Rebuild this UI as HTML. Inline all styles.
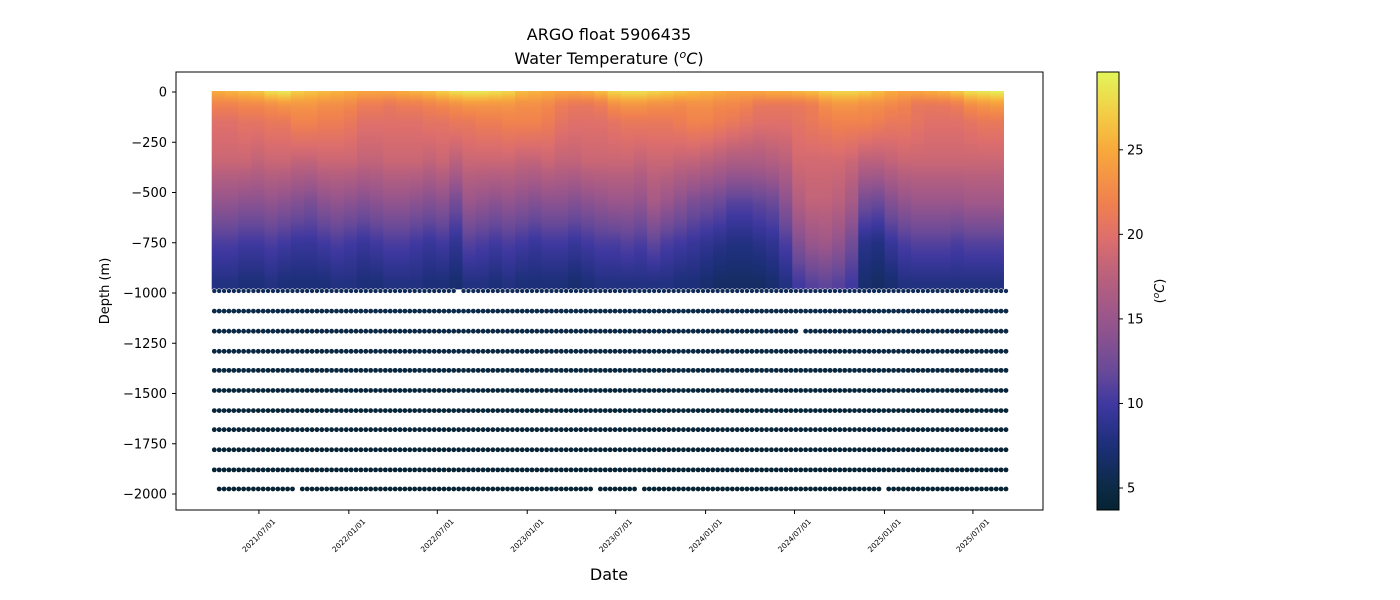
<!DOCTYPE html>
<html><head><meta charset="utf-8"><style>
body{margin:0;background:#fff;}
svg{display:block;font-family:"DejaVu Sans","Liberation Sans",sans-serif;}
</style></head><body>
<svg id="chart" width="1400" height="600" viewBox="0 0 1400 600" xmlns="http://www.w3.org/2000/svg">
<defs id="defs"></defs>
<text x="609" y="40" font-size="16" text-anchor="middle" fill="#000">ARGO float 5906435</text>
<text x="609" y="64" font-size="16" text-anchor="middle" fill="#000">Water Temperature (<tspan font-style="italic" font-size="11" dy="-6">o</tspan><tspan font-style="italic" dy="6">C</tspan>)</text>
<g id="plot"></g>
<rect x="176" y="72" width="867" height="438" fill="none" stroke="#000" stroke-width="1"/>
<g id="yaxis"></g>
<g id="xaxis"></g>
<text transform="translate(109,291) rotate(-90)" font-size="13" text-anchor="middle">Depth (m)</text>
<text x="609" y="580" font-size="16" text-anchor="middle">Date</text>
<g id="cbar"></g>
<text transform="translate(1164,291) rotate(-90)" font-size="13" text-anchor="middle">(<tspan font-style="italic" font-size="9" dy="-5">o</tspan><tspan font-style="italic" dy="5">C</tspan>)</text>
</svg>
<script>
// ---- data ----
const profileDays = [0,27,54,81,108,135,162,189,216,243,270,297,324,351,378,405,432,459,486,513,540,567,594,621,648,675,702,729,756,783,810,837,864,891,918,945,972,999,1026,1053,1080,1107,1134,1161,1188,1215,1242,1269,1296,1323,1350,1377,1404,1431,1458,1485,1512,1539,1566,1593];
const depthLevels = [0,60,150,350,550,750,950];
const sst  = [25,25.5,26,26.5,28,28.5,27,26.5,26,25.5,25,24.5,24.5,24.5,25,25.5,26,27,28,28.5,28.5,28,27.5,26,25.5,25,24.5,24.5,25,26,27.5,28,28,27.5,27,26.5,26,25.5,25,24.5,24.5,24.5,25,25,25.5,26,27,27.5,27.5,27,26,25,24.5,24.5,25,25.5,26.5,28,28.5,29];
const t60  = [22,22,22.5,22.5,23,23.5,23.5,23.5,23,23,22.5,21.5,21.5,21,21.5,21.5,22,22.5,23,23.5,23.5,23.5,23.5,23,23,22.5,21.5,21,21,21.5,23,23.5,23.5,23,23,22.5,23,23,22.5,22.5,22,21,21,21,21,21.5,23,23.5,23.5,23,23,22.5,22,21,21,21,21.5,23,23.5,24];
const t150 = [20,20,20.5,20.5,21,21,22,22,21.5,21.5,21,20,20,20,20,20,20.5,20.5,21,21,21.5,21.5,22,22,22,21.5,20.5,20,20,20,20.5,21,21,21,21,21.5,22,22,21.5,21,20.5,20,20,20,20.5,21,21.5,22,22,22,21.5,21,21,20.5,20,20,20,20.5,21,21];
const t350 = [18.5,18.5,18.5,18,18.5,18.5,18,18,18.5,18.5,18.5,18,18,18.5,18.5,18.5,18,18.5,17.5,18.5,18.5,18.5,18.5,18,18,18.5,18,18,18.5,18.5,18.5,18.5,18,18.5,18.5,18,18,17.5,17,16.5,16.5,16.5,17,17.5,19,19,19,19,18.5,17.5,17.5,18,18.5,18.5,18.5,18.5,18.5,18.5,18.5,18.5];
const t550 = [14.5,14.5,14,14,14.5,14,13.5,13,14,14.5,14,13.5,14,14.5,14.5,14,13.5,14,12.5,15,14.5,14,14.5,14,13.5,14,14,13.5,14,14.5,15,15,14.5,16,15,14,13,12.5,12,11,11,11.5,12,14,17,18,18,17.5,16,12.5,12,13.5,14.5,15,15,15,15,15.5,15.5,15.5];
const t750 = [10.5,10.5,10,10,10.5,10,9.5,9.5,10,10.5,10,9.5,10,10.5,10.5,10,9.5,10,9,11,10.5,10,10.5,10,9.5,10,10,9.5,10,10.5,10.5,11,10.5,11.5,10.5,10,9.5,9,8.5,8,8,8.5,9,10.5,13.5,15,15.5,14.5,12.5,8.5,8,9.5,10.5,11,11,11,10.5,11,11,11];
const t950 = [8,8,7.5,7.5,8,7.5,7.5,7.5,7.5,8,8,7.5,7.5,8,8,8,7.5,7.5,7,8,8,7.5,8,7.5,7.5,7.5,7.5,7,7.5,8,8,8,8,8,8,7.5,7.5,7,6.5,6.5,6.5,6.5,7,8,10,11,11.5,11,10,7,6.5,7,8,8,8,8,8,8,8,8];
const deepDepths = [990,1090,1190,1290,1385,1485,1585,1680,1780,1880,1975];
const deepTemps  = [6.0,5.2,4.9,4.7,4.5,4.3,4.2,4.1,4.0,3.9,3.8];
const deepStepDays = 10;
const deepLastDay = 1620;
const deepMissing = {990:[500],1190:[1200],1975:[0,170,780,870,1370]};
const yTicks = [0,-250,-500,-750,-1000,-1250,-1500,-1750,-2000];
const xTickLabels = ["2021/07/01","2022/01/01","2022/07/01","2023/01/01","2023/07/01","2024/01/01","2024/07/01","2025/01/01","2025/07/01"];
const xTickDays = [96,280,461,645,826,1010,1192,1376,1557];
const cbTicks = [5,10,15,20,25];

// ---- scales ----
const NS="http://www.w3.org/2000/svg";
const X0=212, PXD=0.4887;
const xS=d=>X0+d*PXD;
const yS=v=>92+(-v)*0.201;
const TMIN=3.7,TMAX=29.6;
const cmap=[[0,[6,35,51]],[0.05,[11,42,69]],[0.15,[29,47,122]],[0.24,[62,56,160]],[0.32,[106,74,152]],[0.43,[151,85,140]],[0.53,[184,96,126]],[0.62,[221,110,108]],[0.7,[240,128,79]],[0.82,[248,168,60]],[0.9,[243,203,68]],[1,[227,245,90]]];
function col(t){let f=(t-TMIN)/(TMAX-TMIN);f=Math.max(0,Math.min(1,f));
 for(let i=1;i<cmap.length;i++){if(f<=cmap[i][0]){const a=cmap[i-1],b=cmap[i];const u=(f-a[0])/(b[0]-a[0]);
 return `rgb(${a[1].map((c,k)=>Math.round(c+(b[1][k]-c)*u)).join(',')})`;}}return 'rgb(227,245,90)';}
function el(tag,attrs,parent){const e=document.createElementNS(NS,tag);for(const k in attrs)e.setAttribute(k,attrs[k]);parent.appendChild(e);return e;}

const defs=document.getElementById('defs'), plot=document.getElementById('plot');
const colW=27*PXD+0.6;
const levelsT=[sst,t60,t150,t350,t550,t750,t950];
profileDays.forEach((d,i)=>{
  const g=el('linearGradient',{id:'pg'+i,gradientUnits:'userSpaceOnUse',x1:0,x2:0,y1:yS(0),y2:yS(-980)},defs);
  const temps=levelsT.map(a=>a[i]);
  for(let s=0;s<=40;s++){const z=980*s/40;let k=0;while(k<depthLevels.length-2&&z>depthLevels[k+1])k++;
    let u=(z-depthLevels[k])/(depthLevels[k+1]-depthLevels[k]);u=Math.min(1,u);
    const T=temps[k]+(temps[k+1]-temps[k])*u;
    el('stop',{offset:(s/40).toFixed(3),'stop-color':col(T)},g);}
  const r=el('rect',{x:(xS(d)-0.3).toFixed(2),y:yS(0)-1,width:colW.toFixed(2),height:(yS(-982)-yS(0)+1).toFixed(2),fill:`url(#pg${i})`},plot);
  
  
});
deepDepths.forEach((z,ri)=>{
  const miss=deepMissing[z]||[];
  for(let d=0;d<=deepLastDay;d+=deepStepDays){
    if(miss.some(m=>Math.abs(m-d)<5))continue;
    const c=el('circle',{cx:(xS(d)+2.3).toFixed(2),cy:yS(-z).toFixed(2),r:2.4,fill:col(deepTemps[ri]),stroke:ri===0?'#fff':'none','stroke-width':ri===0?0.5:0},plot);
    
    
  }
});
const ya=document.getElementById('yaxis');
yTicks.forEach(v=>{const y=yS(v);
  el('line',{x1:172,x2:176,y1:y,y2:y,stroke:'#000'},ya);
  const t=el('text',{x:167,y:y+4.5,'font-size':13,'text-anchor':'end'},ya);t.textContent=v===0?'0':'\u2212'+Math.abs(v);
  
  });
const xa=document.getElementById('xaxis');
xTickDays.forEach((d,i)=>{const x=xS(d);
  el('line',{x1:x,x2:x,y1:510,y2:514,stroke:'#000'},xa);
  const t=el('text',{transform:`translate(${x+17},${522}) rotate(-45)`,'font-size':7.5,'text-anchor':'end'},xa);t.textContent=xTickLabels[i];
  
  });
const cb=document.getElementById('cbar');
const cg=el('linearGradient',{id:'cbg',x1:0,x2:0,y1:1,y2:0},defs);
for(let s=0;s<=50;s++){el('stop',{offset:s/50,'stop-color':col(TMIN+(TMAX-TMIN)*s/50)},cg);}
el('rect',{x:1097,y:72,width:22,height:438,fill:'url(#cbg)',stroke:'#000','stroke-width':1},cb);
const cyS=t=>510-(t-TMIN)/(TMAX-TMIN)*438;
cbTicks.forEach(v=>{const y=cyS(v);
  el('line',{x1:1119,x2:1123,y1:y,y2:y,stroke:'#000'},cb);
  const t=el('text',{x:1127,y:y+4.5,'font-size':13},cb);t.textContent=v;
  
  });
</script>
</body></html>
